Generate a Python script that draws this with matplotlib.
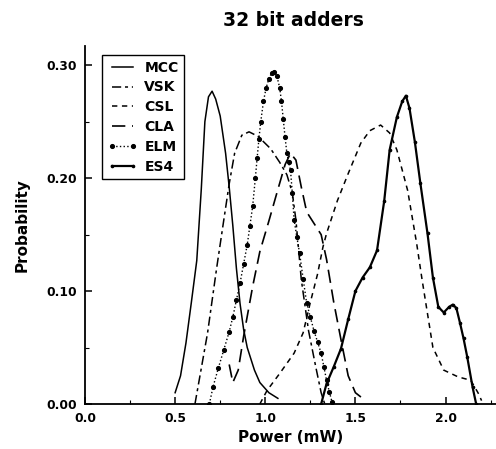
import matplotlib
matplotlib.use("Agg")
import matplotlib.pyplot as plt
from matplotlib.ticker import MultipleLocator, FormatStrFormatter

plt.rcParams['font.family'] = ['DejaVu Sans']
plt.rcParams['font.weight'] = 'bold'

# Power (mW) / probability density samples for each adder design
mcc_x = [0.50, 0.53, 0.56, 0.59, 0.62, 0.645, 0.665, 0.685, 0.705, 0.725, 0.75, 0.78, 0.80, 0.82, 0.84, 0.86, 0.88, 0.90, 0.94, 0.97, 1.02, 1.07]
mcc_y = [0.010, 0.025, 0.054, 0.090, 0.127, 0.190, 0.250, 0.272, 0.277, 0.270, 0.255, 0.222, 0.192, 0.158, 0.120, 0.089, 0.066, 0.050, 0.030, 0.019, 0.010, 0.005]

vsk_x = [0.61, 0.64, 0.68, 0.73, 0.77, 0.80, 0.83, 0.87, 0.91, 0.96, 1.03, 1.08, 1.12, 1.15, 1.17, 1.20, 1.24, 1.28, 1.31, 1.33]
vsk_y = [0.000, 0.027, 0.063, 0.120, 0.163, 0.195, 0.222, 0.238, 0.241, 0.237, 0.226, 0.214, 0.203, 0.187, 0.163, 0.110, 0.065, 0.033, 0.010, 0.000]

csl_x = [0.97, 1.01, 1.08, 1.16, 1.21, 1.25, 1.29, 1.32, 1.34, 1.40, 1.46, 1.53, 1.58, 1.64, 1.69, 1.73, 1.79, 1.84, 1.87, 1.90, 1.93, 1.99, 2.07, 2.14, 2.18, 2.20]
csl_y = [0.000, 0.012, 0.027, 0.045, 0.063, 0.090, 0.115, 0.139, 0.151, 0.180, 0.204, 0.231, 0.242, 0.247, 0.240, 0.225, 0.189, 0.142, 0.110, 0.080, 0.050, 0.030, 0.024, 0.021, 0.010, 0.003]

cla_x = [0.80, 0.82, 0.85, 0.88, 0.93, 0.97, 1.02, 1.07, 1.11, 1.14, 1.17, 1.20, 1.23, 1.27, 1.31, 1.34, 1.38, 1.42, 1.46, 1.50, 1.54]
cla_y = [0.035, 0.019, 0.030, 0.060, 0.104, 0.135, 0.162, 0.190, 0.212, 0.222, 0.216, 0.192, 0.170, 0.160, 0.150, 0.128, 0.090, 0.057, 0.025, 0.010, 0.005]

elm_x = [0.69, 0.71, 0.74, 0.77, 0.80, 0.82, 0.84, 0.86, 0.88, 0.90, 0.915, 0.93, 0.945, 0.955, 0.965, 0.975, 0.99, 1.005, 1.02, 1.035, 1.05, 1.065, 1.08, 1.09, 1.10, 1.11, 1.12, 1.13, 1.14, 1.15, 1.16, 1.175, 1.19, 1.21, 1.23, 1.25, 1.27, 1.29, 1.31, 1.325, 1.34, 1.355, 1.37]
elm_y = [0.000, 0.015, 0.032, 0.048, 0.064, 0.077, 0.092, 0.107, 0.124, 0.141, 0.158, 0.175, 0.200, 0.218, 0.235, 0.250, 0.268, 0.280, 0.288, 0.293, 0.294, 0.290, 0.280, 0.268, 0.252, 0.236, 0.222, 0.214, 0.207, 0.187, 0.163, 0.148, 0.134, 0.111, 0.089, 0.077, 0.065, 0.055, 0.045, 0.033, 0.021, 0.011, 0.002]

es4_x = [1.31, 1.34, 1.38, 1.42, 1.46, 1.50, 1.54, 1.58, 1.62, 1.66, 1.69, 1.73, 1.76, 1.78, 1.80, 1.83, 1.86, 1.90, 1.93, 1.96, 1.99, 2.02, 2.04, 2.06, 2.08, 2.10, 2.12, 2.15, 2.17]
es4_y = [0.000, 0.018, 0.033, 0.049, 0.075, 0.100, 0.112, 0.121, 0.136, 0.180, 0.225, 0.254, 0.268, 0.273, 0.262, 0.232, 0.196, 0.151, 0.112, 0.086, 0.081, 0.086, 0.088, 0.085, 0.072, 0.058, 0.042, 0.015, 0.000]

labels = ["MCC", "VSK", "CSL", "CLA", "ELM", "ES4"]

fig = plt.figure(figsize=(4.96, 4.49), dpi=100)
ax = fig.add_axes([85 / 496, 45 / 449, 411 / 496, 358 / 449])

ax.plot(mcc_x, mcc_y, color='black', lw=1.1, label=labels[0])
ax.plot(vsk_x, vsk_y, color='black', lw=1.1, dashes=(6, 2.5, 2, 2.5), label=labels[1])
ax.plot(csl_x, csl_y, color='black', lw=1.1, dashes=(3.5, 3), label=labels[2])
ax.plot(cla_x, cla_y, color='black', lw=1.2, dashes=(8, 4), label=labels[3])
ax.plot(elm_x, elm_y, color='black', lw=1.0, ls=':', marker='o', ms=2.7, label=labels[4])
ax.plot(es4_x, es4_y, color='black', lw=1.6, marker='o', ms=1.6, label=labels[5])

ax.set_xlim(0, 2.28)
ax.set_ylim(0, 0.317)

for side in ('top', 'right'):
    ax.spines[side].set_visible(False)
for side in ('left', 'bottom'):
    ax.spines[side].set_linewidth(1.3)

ax.xaxis.set_major_locator(MultipleLocator(0.5))
ax.xaxis.set_minor_locator(MultipleLocator(0.25))
ax.yaxis.set_major_locator(MultipleLocator(0.1))
ax.yaxis.set_minor_locator(MultipleLocator(0.05))
ax.xaxis.set_major_formatter(FormatStrFormatter('%.1f'))
ax.yaxis.set_major_formatter(FormatStrFormatter('%.2f'))
ax.tick_params(which='major', direction='in', length=5, width=1.1, labelsize=8.8, pad=6)
ax.tick_params(which='minor', direction='in', length=3, width=0.8)
for t in ax.get_xticklabels() + ax.get_yticklabels():
    t.set_fontweight('bold')

ax.set_xlabel("Power (mW)", fontsize=11, fontweight='bold', labelpad=3)
ax.set_ylabel("Probability", fontsize=11, fontweight='bold', labelpad=12)
fig.text(293 / 496, 1 - 20 / 449, "32 bit adders", ha='center', va='center',
         fontsize=13.5, fontweight='bold')

leg = ax.legend(loc='upper left', bbox_to_anchor=(102 / 496, 1 - 55 / 449),
                bbox_transform=fig.transFigure, borderaxespad=0,
                frameon=True, fancybox=False, framealpha=1, edgecolor='black',
                handlelength=2.1, labelspacing=0.42,
                handletextpad=0.55, borderpad=0.4, numpoints=2,
                prop={'weight': 'bold', 'size': 10})
leg.get_frame().set_linewidth(1.0)

fig.savefig("out.png", dpi=100)
